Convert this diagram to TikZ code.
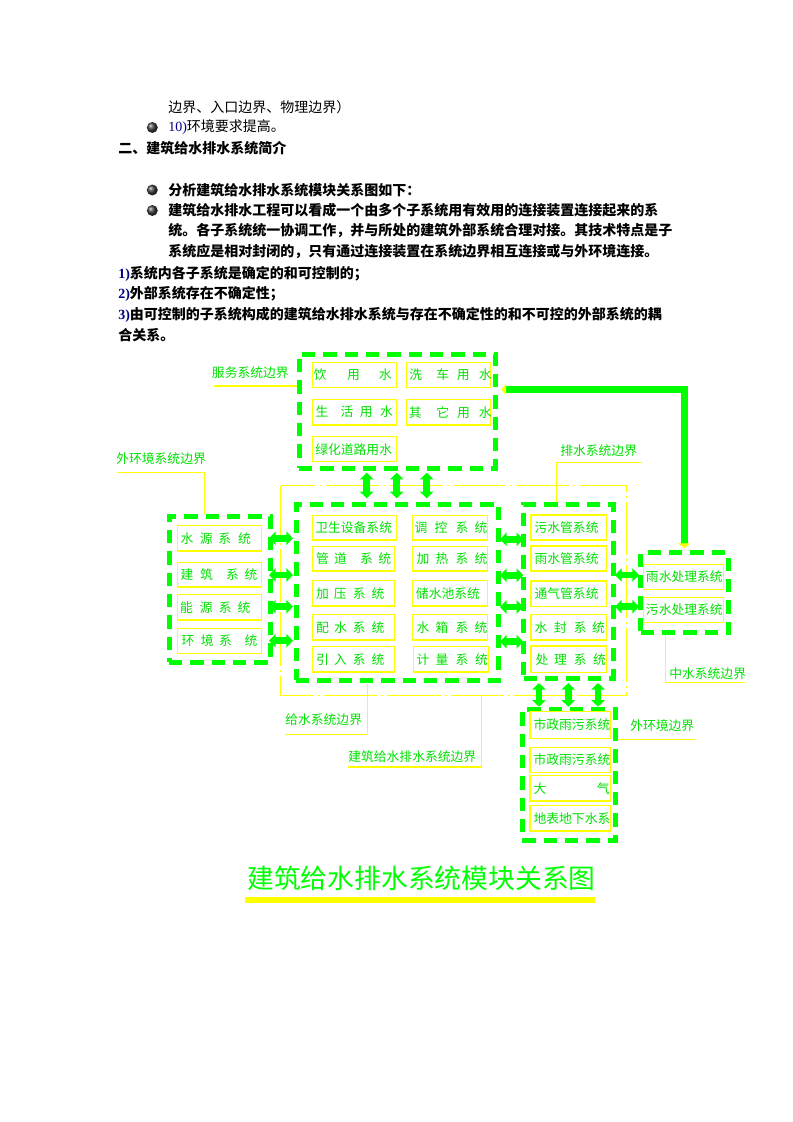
\documentclass[tikz,border=0pt]{standalone}
\usepackage{fontspec}
\setmainfont{Noto Sans CJK SC}
\newfontfamily\lat{Liberation Serif}
\usetikzlibrary{arrows.meta}
\XeTeXlinebreaklocale "zh"
\XeTeXlinebreakskip=0pt plus 1pt
\definecolor{grn}{RGB}{0,255,0}
\definecolor{gtx}{RGB}{0,225,0}
\definecolor{yel}{RGB}{255,255,0}
\definecolor{navy}{RGB}{0,0,128}
\newlength\pxu \setlength\pxu{0.75pt}
\newcommand\gp[1]{\hspace{#1\pxu}}
\tikzset{
 gbound/.style={draw=grn, line width=3.75pt, dash pattern=on 10pt off 6pt, inner sep=0pt, outer sep=0pt},
 ybox/.style={draw=yel, line width=1.1pt, inner sep=0pt, outer sep=0pt},
 ydd/.style={draw=yel, line width=0.9pt, dash pattern=on 40pt off 3pt on 1.5pt off 3pt},
 ptr/.style={draw=yel, line width=0.9pt},
 btxt/.style={text=gtx, anchor=west, inner sep=0pt, font=\fontsize{9.6pt}{11pt}\selectfont},
 body/.style={anchor=west, inner sep=0pt, font=\fontsize{10.5pt}{12pt}\selectfont},
 bbody/.style={anchor=west, inner sep=0pt, font=\fontsize{10.5pt}{12pt}\selectfont\bfseries},
 dbl/.style={draw=grn, line width=5pt, {Triangle[length=5pt,width=10pt]}-{Triangle[length=5pt,width=10pt]}},
 bigline/.style={draw=grn, line width=5pt, {Triangle[length=3.5pt,width=9pt,color=yel]}-{Triangle[length=3.5pt,width=9pt,color=yel]}},
 bul/.style={ball color=black!75}
}
\newcommand\gbx[5]{\node[gbound, minimum width={(#4-#2)*0.75pt}, minimum height={(#5-#3)*0.75pt}] (#1) at ({(#2+#4)/2},{(#3+#5)/2}) {};}
\newcommand\ybx[7]{\node[ybox, minimum width={(#4-#2)*0.75pt}, minimum height={(#5-#3)*0.75pt}] (#1) at ({(#2+#4)/2},{(#3+#5)/2}) {};\node[btxt] (#1t) at (#6,{(#3+#5)/2}) {#7};}
\begin{document}
\begin{tikzpicture}[x=0.75pt,y=-0.75pt]
\useasboundingbox (0,0) rectangle (793,1122);
\fill[white] (0,0) rectangle (793,1122);

% ---------- body text ----------
\node[body] (t1) at (168,107) {边界、入口边界、物理边界）};
\shade[bul] (152.3,127.5) circle (4.1pt);
\node[body] (t2) at (168,127.5) {{\lat\color{navy}10)}环境要求提高。};
\node[bbody] (t3) at (118,148) {二、建筑给水排水系统简介};
\shade[bul] (152.3,190) circle (4.1pt);
\node[bbody] (t4) at (168,190) {分析建筑给水排水系统模块关系图如下：};
\shade[bul] (152.3,210.5) circle (4.1pt);
\node[bbody] (t5) at (168,210.5) {\makebox[380.25pt][s]{建筑给水排水工程可以看成一个由多个子系统用有效用的连接装置连接起来的系}};
\node[bbody] (t6) at (168,231) {统。各子系统统一协调工作，并与所处的建筑外部系统合理对接。其技术特点是子};
\node[bbody] (t7) at (168,251.5) {系统应是相对封闭的，只有通过连接装置在系统边界相互连接或与外环境连接。};
\node[bbody] (t8) at (118,273.5) {{\lat\bfseries\color{navy}1)}系统内各子系统是确定的和可控制的；};
\node[bbody] (t9) at (118,294) {{\lat\bfseries\color{navy}2)}外部系统存在不确定性；};
\node[bbody] (t10) at (118,315) {\makebox[417.75pt][s]{{\lat\bfseries\color{navy}3)}由可控制的子系统构成的建筑给水排水系统与存在不确定性的和不可控的外部系统的耦}};
\node[bbody] (t11) at (118,335.5) {合关系。};

% ---------- yellow dash-dot boundary ----------
\draw[ydd] (280.7,485.7) rectangle (626.7,695.7);

% ---------- green boundaries ----------
\gbx{svc}{299}{354}{495.5}{468}
\gbx{env}{169}{516}{270.3}{662}
\gbx{sup}{296}{504}{498.7}{680.3}
\gbx{drn}{523.8}{504}{613.8}{678}
\gbx{mid}{640.5}{552.8}{728}{632.8}
\gbx{ext}{522.2}{709.5}{615.5}{840}

% ---------- service boxes ----------
\ybx{A1}{312.7}{362.7}{396.7}{387.3}{313.6}{饮\gp{20.5}用\gp{18.9}水}
\ybx{A2}{406.7}{362.7}{490.7}{387.3}{409.1}{洗\gp{14.2}车\gp{7.7}用\gp{9.2}水}
\ybx{A3}{312.7}{399.3}{396.7}{425}{315.3}{生\gp{12.2}活\gp{6.5}用\gp{7.5}水}
\ybx{A4}{406.7}{399.3}{490.7}{425}{408.6}{其\gp{14.7}它\gp{8}用\gp{8.9}水}
\ybx{A5}{312.7}{436.7}{396.7}{461.7}{315}{绿化道路用水}

% ---------- outer environment boxes ----------
\ybx{B1}{177.7}{525.3}{261.7}{551}{180.3}{水\gp{6.5}源\gp{5.7}系\gp{6.9}统}
\ybx{B2}{177.7}{562.3}{261.7}{587}{180.3}{建\gp{6.8}筑\gp{13.1}系\gp{5.7}统}
\ybx{B3}{177.7}{594.3}{261.7}{620}{179.9}{能\gp{6.9}源\gp{6.2}系\gp{5.9}统}
\ybx{B4}{177.7}{628.7}{261.7}{653.3}{181.4}{环\gp{6.4}境\gp{5.5}系\gp{12.6}统}

% ---------- supply boxes ----------
\ybx{C1}{312.3}{515.7}{396.7}{540}{315}{卫生设备系统}
\ybx{C2}{312.3}{546.7}{394.3}{571}{315.8}{管\gp{5.3}道\gp{13.2}系\gp{5.4}统}
\ybx{C3}{312.3}{580.7}{394.3}{606}{315.8}{加\gp{5}压\gp{6.2}系\gp{6}统}
\ybx{C4}{312.3}{614.7}{394.3}{640}{315.8}{配\gp{5.3}水\gp{5.9}系\gp{6}统}
\ybx{C5}{312.3}{646.7}{394.3}{672}{315.8}{引\gp{5.3}入\gp{5.9}系\gp{6}统}
\ybx{D1}{412.7}{515.7}{487.3}{540}{414.4}{调\gp{7.1}控\gp{8.2}系\gp{6.2}统}
\ybx{D2}{412.7}{546.7}{487.3}{571}{416.3}{加\gp{6.2}热\gp{7.2}系\gp{6.2}统}
\ybx{D3}{412.7}{580.7}{487.3}{606}{415.7}{储水池系统}
\ybx{D4}{412.7}{614.7}{487.3}{640}{416.3}{水\gp{6.2}箱\gp{7.2}系\gp{6.2}统}
\ybx{D5}{413.3}{646.7}{488.3}{672}{416.3}{计\gp{6.2}量\gp{7.2}系\gp{6.8}统}

% ---------- drainage boxes ----------
\ybx{E1}{531}{515}{606.7}{540}{534.3}{污水管系统}
\ybx{E2}{531}{546}{606.7}{571}{534.3}{雨水管系统}
\ybx{E3}{531}{581}{606.7}{606.7}{534.3}{通气管系统}
\ybx{E4}{531}{614.3}{606.7}{640}{534.4}{水\gp{6.4}封\gp{7.2}系\gp{5.5}统}
\ybx{E5}{531}{646}{606.7}{672.3}{535.3}{处\gp{5.8}理\gp{6.9}系\gp{6.5}统}

% ---------- reclaimed water boxes ----------
\ybx{F1}{643.3}{564.3}{723.3}{589.3}{645.7}{雨水处理系统}
\ybx{F2}{643.3}{597.3}{723.3}{622.3}{645.7}{污水处理系统}

% ---------- external boxes ----------
\ybx{G1}{530}{711.7}{610.7}{738.3}{533.3}{市政雨污系统}
\ybx{G2}{530}{747.7}{610.7}{772.3}{533.3}{市政雨污系统}
\ybx{G3}{530}{775.7}{610.7}{801}{533.3}{\makebox[57pt][s]{大\hfill 气}}
\ybx{G4}{530}{805.7}{610.7}{831}{533.3}{地表地下水系}

% ---------- labels ----------
\node[btxt] (L1) at (211.7,373) {服务系统边界};
\node[btxt] (L2) at (116,459) {外环境系统边界};
\node[btxt] (L3) at (560,451) {排水系统边界};
\node[btxt] (L4) at (285,720) {给水系统边界};
\node[btxt] (L5) at (348,757) {建筑给水排水系统边界};
\node[btxt] (L6) at (669,673.3) {中水系统边界};
\node[btxt] (L7) at (630,725.7) {外环境边界};

% ---------- label pointer lines ----------
\coordinate (p1a) at (214,386);   \coordinate (p1b) at (297,386);
\coordinate (p2a) at (117,472.3); \coordinate (p2b) at (204.3,472.3); \coordinate (p2c) at (204.3,514);
\coordinate (p3a) at (641.7,462.7); \coordinate (p3b) at (556.7,462.7); \coordinate (p3c) at (556.7,502);
\coordinate (p4a) at (285,734.3); \coordinate (p4b) at (367.7,734.3); \coordinate (p4c) at (367.7,682);
\coordinate (p5a) at (348,767);   \coordinate (p5b) at (481.7,767); \coordinate (p5c) at (481.7,695.7);
\coordinate (p6a) at (745,682.7); \coordinate (p6b) at (665.7,682.7); \coordinate (p6c) at (665.7,634.5);
\coordinate (p7a) at (617.5,739.3); \coordinate (p7b) at (696,739.3);
\draw[ptr] (p1a) -- (p1b);
\draw[ptr] (p2a) -- (p2b) -- (p2c);
\draw[ptr] (p3a) -- (p3b) -- (p3c);
\draw[ptr] (p4a) -- (p4b) -- (p4c);
\draw[ptr] (p5a) -- (p5b) -- (p5c);
\draw[ptr] (p6a) -- (p6b) -- (p6c);
\draw[ptr] (p7a) -- (p7b);

% ---------- double arrows ----------
\foreach \i/\yy in {1/538.3,2/575,3/606.7,4/640.7}{
  \coordinate (el\i) at (269,\yy); \coordinate (sl\i) at (293,\yy);
  \draw[dbl] (el\i) -- (sl\i);}
\foreach \i/\yy in {1/539.3,2/575.3,3/607,4/641.7}{
  \coordinate (sr\i) at (500,\yy); \coordinate (dl\i) at (523.3,\yy);
  \draw[dbl] (sr\i) -- (dl\i);}
\foreach \i/\yy in {1/575,2/606.7}{
  \coordinate (dr\i) at (615,\yy); \coordinate (ml\i) at (639,\yy);
  \draw[dbl] (dr\i) -- (ml\i);}
\foreach \i/\xx in {1/366.7,2/396.7,3/426.7}{
  \coordinate (vb\i) at (\xx,472.7); \coordinate (st\i) at (\xx,498.3);
  \draw[dbl] (vb\i) -- (st\i);}
\foreach \i/\xx in {1/539,2/568.3,3/598}{
  \coordinate (db\i) at (\xx,683); \coordinate (xt\i) at (\xx,706.7);
  \draw[dbl] (db\i) -- (xt\i);}

% ---------- big connector ----------
\coordinate (svcr) at (501.5,389.5);
\coordinate (crn) at (684.3,389.5);
\coordinate (midt) at (684.3,548);
\draw[bigline] (svcr) -- (crn) -- (midt);

% ---------- title ----------
\node[anchor=west, inner sep=0pt, text=grn, font=\fontsize{20.1pt}{24pt}\selectfont] (title) at (247,878) {建筑给水排水系统模块关系图};
\coordinate (u1) at (245,899.7); \coordinate (u2) at (595,899.7);
\draw[yel, line width=4.5pt] (u1) -- (u2);
\end{tikzpicture}
\end{document}
